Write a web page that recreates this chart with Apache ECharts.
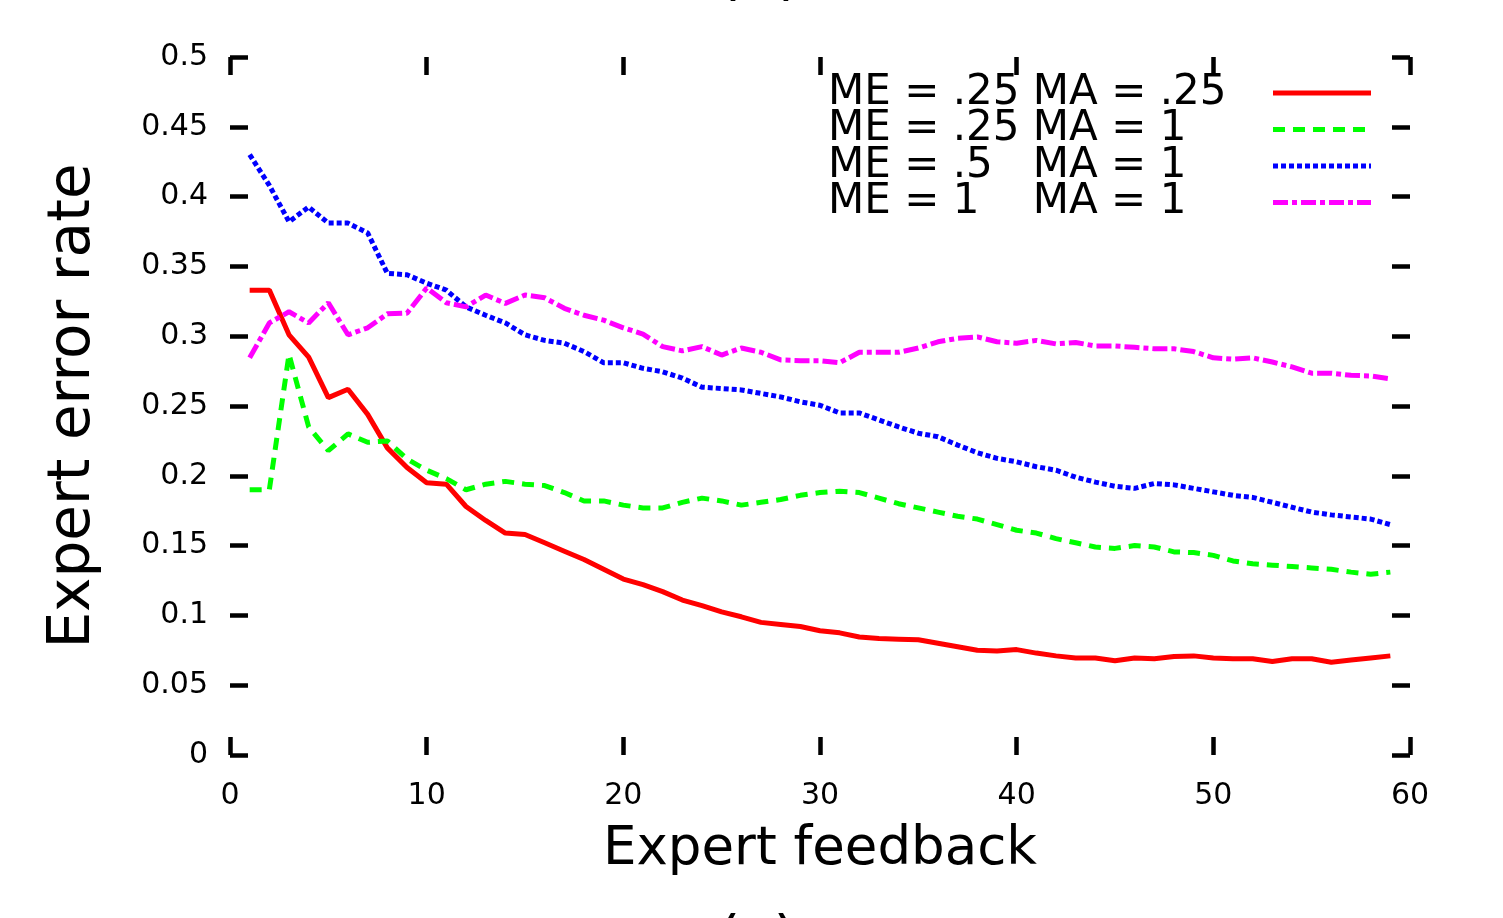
<!DOCTYPE html>
<html lang="en">
<head>
    <meta charset="UTF-8">
    <title>Expert error rate</title>
    <style>
        html,body{margin:0;padding:0;background:#fff;}
        #chart{width:1503px;height:918px;}
    </style>
</head>
<body>
    <div id="chart"></div>
    <script src="https://cdn.jsdelivr.net/npm/echarts@6/dist/echarts.min.js"></script>
    <script>
        // x: number of expert feedbacks
        let feedback=[1,2,3,4,5,6,7,8,9,10,11,12,13,14,15,16,17,18,19,20,
            21,22,23,24,25,26,27,28,29,30,31,32,33,34,35,36,37,38,39,40,
            41,42,43,44,45,46,47,48,49,50,51,52,53,54,55,56,57,58,59];
        let seriesNames=['ME = .25 MA = .25','ME = .25 MA = 1','ME = .5   MA = 1','ME = 1    MA = 1'];
        let me25ma25=[0.333,0.333,0.301,0.285,0.256,0.262,0.244,0.220,0.206,0.195,
            0.194,0.178,0.168,0.159,0.158,0.152,0.146,0.140,0.133,0.126,
            0.122,0.117,0.111,0.107,0.1025,0.099,0.095,0.0935,0.092,0.089,
            0.0875,0.0845,0.0835,0.083,0.0825,0.080,0.0775,0.075,0.0745,0.0755,
            0.073,0.071,0.0695,0.0695,0.0675,0.0695,0.069,0.0705,0.071,0.0695,
            0.069,0.069,0.067,0.069,0.069,0.0665,0.068,0.0695,0.071];
        let me25ma1=[0.190,0.190,0.287,0.235,0.218,0.230,0.224,0.225,0.212,0.204,
            0.198,0.190,0.194,0.196,0.194,0.193,0.188,0.182,0.182,0.179,
            0.177,0.177,0.181,0.184,0.182,0.179,0.181,0.183,0.186,0.188,
            0.189,0.188,0.184,0.180,0.177,0.174,0.171,0.169,0.165,0.161,
            0.159,0.155,0.152,0.149,0.148,0.150,0.149,0.1455,0.145,0.143,
            0.139,0.137,0.136,0.135,0.134,0.133,0.131,0.1295,0.131];
        let me5ma1=[0.430,0.408,0.382,0.3925,0.381,0.381,0.374,0.345,0.344,0.338,
            0.333,0.321,0.315,0.3095,0.301,0.297,0.295,0.289,0.281,0.281,
            0.277,0.2745,0.270,0.2635,0.2625,0.2615,0.259,0.2565,0.253,0.2505,
            0.245,0.245,0.240,0.235,0.2305,0.228,0.222,0.2165,0.2125,0.210,
            0.2065,0.204,0.199,0.1955,0.1925,0.191,0.1945,0.1935,0.191,0.1885,
            0.186,0.1845,0.181,0.1775,0.174,0.172,0.1705,0.169,0.165];
        let me1ma1=[0.2845,0.3095,0.3175,0.3095,0.324,0.301,0.306,0.316,0.3165,0.3345,
            0.324,0.321,0.3295,0.3235,0.3295,0.3275,0.320,0.315,0.3115,0.306,
            0.3015,0.2925,0.2895,0.2925,0.2865,0.2915,0.2885,0.283,0.2825,0.2825,
            0.281,0.2885,0.2885,0.2885,0.2915,0.296,0.2985,0.2995,0.296,0.295,
            0.297,0.2945,0.2955,0.293,0.293,0.292,0.291,0.291,0.289,0.2845,
            0.2835,0.2845,0.2815,0.278,0.2735,0.2735,0.272,0.2715,0.2695];

        function pairs(values){
            return values.map((v,i)=>[feedback[i],v]);
        }

        let font='DejaVu Sans';
        let colors=['#ff0000','#00ff00','#0000ff','#ff00ff'];
        let dashes=['solid',[12,8],[5,3],[15,4,5,4]];
        let allValues=[me25ma25,me25ma1,me5ma1,me1ma1];

        let tick={show:true,inside:true,length:18,lineStyle:{color:'#000',width:4.5}};
        let noLine={show:false,onZero:false};
        let xBase={type:'value',min:0,max:60,interval:10,axisLine:noLine,axisTick:tick,splitLine:{show:false}};
        let yBase={type:'value',min:0,max:0.5,interval:0.05,axisLine:noLine,axisTick:tick,splitLine:{show:false}};

        let myChart=echarts.init(document.getElementById('chart'));
        let option={
            backgroundColor:'#fff',
            animation:false,
            grid:{left:230,right:93,top:57,bottom:163,containLabel:false,outerBoundsMode:'none'},
            xAxis:[
                Object.assign({},xBase,{
                    position:'bottom',
                    name:'Expert feedback',
                    nameLocation:'middle',
                    nameGap:69,
                    nameTextStyle:{fontFamily:font,fontSize:53,color:'#000'},
                    axisLabel:{margin:26,fontFamily:font,fontSize:30,color:'#000'},
                }),
                Object.assign({},xBase,{position:'top',axisLabel:{show:false}}),
            ],
            yAxis:[
                Object.assign({},yBase,{
                    position:'left',
                    name:'Expert error rate',
                    nameLocation:'middle',
                    nameGap:127,
                    nameTextStyle:{fontFamily:font,fontSize:58,color:'#000'},
                    axisLabel:{margin:22,fontFamily:font,fontSize:30,color:'#000'},
                }),
                Object.assign({},yBase,{position:'right',axisLabel:{show:false}}),
            ],
            legend:{
                orient:'vertical',
                left:828,
                top:72,
                padding:0,
                itemGap:-5.5,
                itemWidth:98,
                itemHeight:4,
                align:'right',
                data:seriesNames,
                itemStyle:{color:'rgba(0,0,0,0)',borderWidth:0,opacity:0},
                lineStyle:{width:5},
                formatter:(name)=>'{t|'+name+'}',
                textStyle:{
                    lineHeight:37,
                    rich:{t:{width:440,align:'left',fontFamily:font,fontSize:42,lineHeight:37,color:'#000'}},
                },
            },
            graphic:[
                {type:'text',x:717,y:-53,style:{text:'(b)',font:'60px "DejaVu Sans"',fill:'#000'}},
                {type:'text',x:717,y:913,style:{text:'(c)',font:'60px "DejaVu Sans"',fill:'#000'}},
            ],
            series:seriesNames.map((name,i)=>({
                name,
                type:'line',
                data:pairs(allValues[i]),
                showSymbol:false,
                symbol:'none',
                color:colors[i],
                lineStyle:{color:colors[i],width:5,type:dashes[i]},
            })),
        };
        myChart.setOption(option);
    </script>
</body>
</html>
